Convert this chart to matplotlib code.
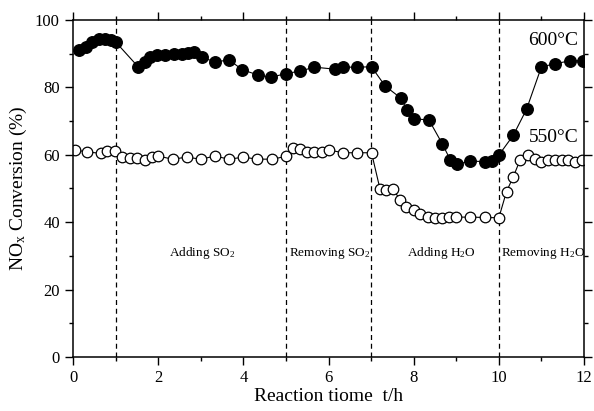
import matplotlib
matplotlib.use("Agg")
import matplotlib.pyplot as plt
from matplotlib.ticker import MultipleLocator

plt.rcParams['font.family'] = ['Liberation Serif', 'DejaVu Serif']
plt.rcParams['mathtext.fontset'] = 'custom'
plt.rcParams['mathtext.rm'] = 'Liberation Serif'
plt.rcParams['mathtext.it'] = 'Liberation Serif:italic'

# === data ===
t_600 = [0.15, 0.3, 0.45, 0.6, 0.75, 0.9, 1.0,
         1.53, 1.69, 1.81, 1.97, 2.16, 2.36, 2.55, 2.71, 2.83,
         3.02, 3.33, 3.67, 3.98, 4.34, 4.65, 5.0, 5.32, 5.67,
         6.15, 6.35, 6.66, 7.01,
         7.33, 7.7, 7.84, 8.01, 8.36, 8.67, 8.86, 9.01,
         9.33, 9.68, 9.83, 10.0,
         10.34, 10.65, 11.0, 11.32, 11.67, 11.97]
conv_600 = [91, 92, 93.5, 94.3, 94.5, 94, 93.5,
            86.1, 87.6, 89.1, 89.6, 89.6, 89.8, 90, 90.1, 90.6,
            88.9, 87.6, 88.1, 85.2, 83.7, 83.0, 84.1, 84.8, 86.0,
            85.4, 86.0, 86.0, 86.1,
            80.4, 76.8, 73.4, 70.7, 70.3, 63.3, 58.5, 57.2,
            58.1, 58.0, 58.2, 59.9,
            65.8, 73.5, 86.1, 87.0, 87.9, 87.9]

t_550 = [0.05, 0.32, 0.65, 0.81, 0.99, 1.14, 1.34, 1.51, 1.69, 1.85,
         2.0, 2.34, 2.67, 3.0, 3.33, 3.67, 4.0, 4.33, 4.67, 5.0,
         5.17, 5.33, 5.5, 5.67, 5.84, 6.01, 6.35, 6.68, 7.01,
         7.21, 7.35, 7.52, 7.68, 7.83, 8.0, 8.15, 8.33, 8.5, 8.66,
         8.84, 9.0, 9.33, 9.68, 10.0,
         10.18, 10.34, 10.5, 10.69, 10.85, 11.0, 11.16, 11.32, 11.48,
         11.63, 11.79, 11.95]
conv_550 = [61.4, 60.9, 60.4, 61.2, 61.2, 59.3, 59.0, 59.0, 58.5, 59.4,
            59.6, 58.7, 59.3, 58.7, 59.6, 58.7, 59.3, 58.7, 58.7, 59.5,
            61.9, 61.6, 60.9, 60.9, 60.9, 61.4, 60.6, 60.6, 60.6,
            49.8, 49.6, 49.8, 46.6, 44.5, 43.5, 42.4, 41.4, 41.1, 41.3,
            41.4, 41.5, 41.5, 41.4, 41.3,
            49.1, 53.5, 58.5, 59.9, 58.8, 58.0, 58.5, 58.5, 58.5,
            58.5, 58.0, 58.5]

switch_times = [1, 5, 7, 10]
stage_labels = ['Adding SO$_2$', 'Removing SO$_2$', 'Adding H$_2$O', 'Removing H$_2$O']
stage_x = [2.26, 5.08, 7.85, 10.05]

# === plot ===
fig = plt.figure(figsize=(5.94, 4.11), dpi=100)
ax = fig.add_axes([0.1229, 0.1314, 0.8603, 0.8200])

for x in switch_times:
    ax.axvline(x, color='black', ls=(0, (4, 3)), lw=0.9)

ax.plot(t_600, conv_600, '-', color='black', lw=0.8,
        marker='o', ms=8.3, mfc='black', mec='black')
ax.plot(t_550, conv_550, '-', color='black', lw=0.8,
        marker='o', ms=7.6, mfc='white', mec='black', mew=0.9)

for x, s in zip(stage_x, stage_labels):
    ax.text(x, 30, s, fontsize=9.5, ha='left', va='baseline', clip_on=True)

ax.text(11.87, 92.6, '600°C', fontsize=14, ha='right', va='baseline')
ax.text(11.87, 63.9, '550°C', fontsize=14, ha='right', va='baseline')

ax.set_xlim(0, 12)
ax.set_ylim(0, 100)
ax.xaxis.set_major_locator(MultipleLocator(2))
ax.xaxis.set_minor_locator(MultipleLocator(1))
ax.yaxis.set_major_locator(MultipleLocator(20))
ax.yaxis.set_minor_locator(MultipleLocator(10))
ax.tick_params(which='both', direction='out', top=True, right=True,
               labelsize=12, width=1.0)
ax.tick_params(which='major', length=6)
ax.tick_params(which='minor', length=3)
for sp in ax.spines.values():
    sp.set_linewidth(1.1)

ax.set_xlabel('Reaction tiome  t/h', fontsize=14, labelpad=1)
ax.set_ylabel(r'NO$_\mathregular{x}$ Conversion (%)', fontsize=14, labelpad=4)

fig.savefig('out.png', dpi=100)
